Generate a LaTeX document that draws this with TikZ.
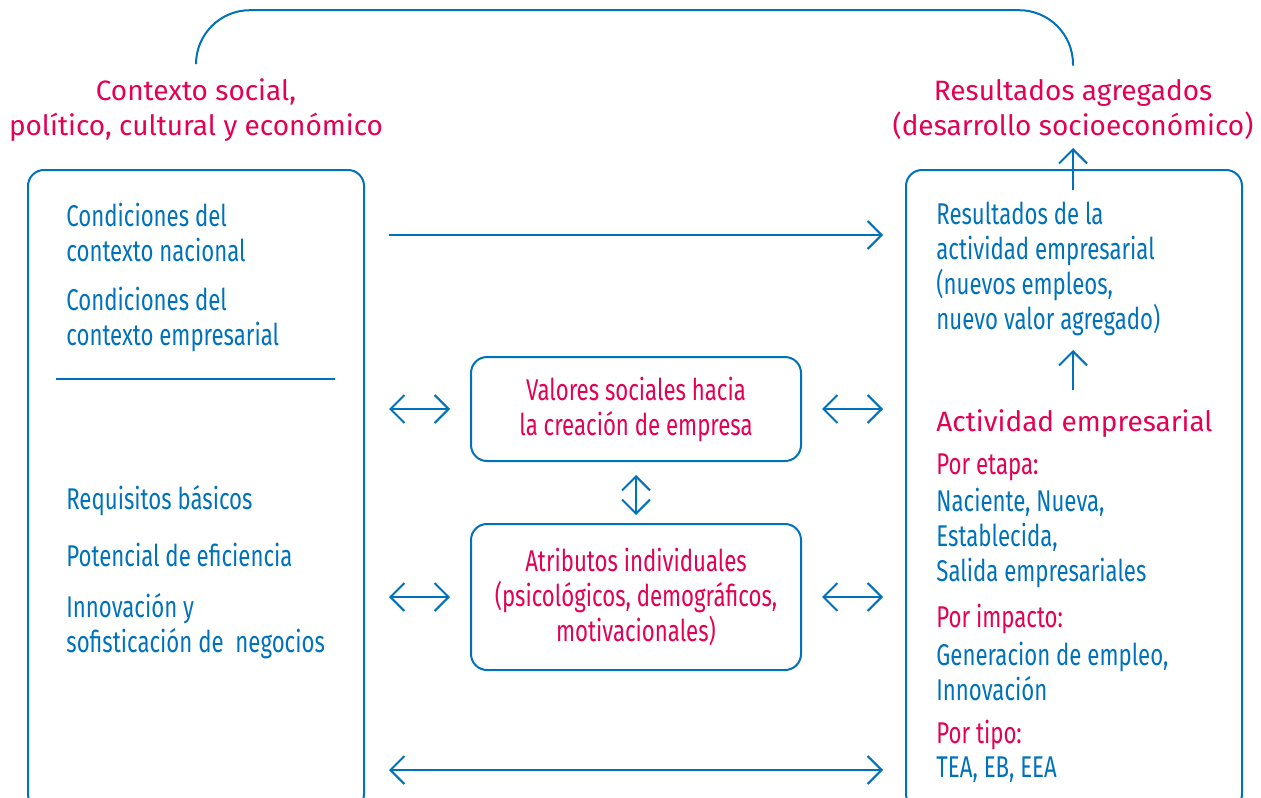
\documentclass[tikz,border=0pt]{standalone}
\usepackage{fontspec}
\setmainfont{Fira Sans}
\newfontfamily\narrowfont[FakeStretch=0.74]{Fira Sans}
\usetikzlibrary{arrows.meta, positioning}
\definecolor{gemblue}{RGB}{0,114,188}
\definecolor{gemred}{RGB}{228,0,84}

\tikzset{
  frame/.style={draw=gemblue, line width=1pt, rounded corners=8pt},
  body/.style={text=gemblue, font=\narrowfont\fontsize{15}{17.5}\selectfont,
    align=left, anchor=west, inner sep=0pt},
  redbody/.style={body, text=gemred},
  midtext/.style={body, text=gemred, align=center, anchor=center},
  headtext/.style={text=gemred, font=\fontsize{14}{17.5}\selectfont,
    align=center, inner sep=0pt},
  link/.style={draw=gemblue, line width=1pt,
    -{Straight Barb[length=7pt,width=14pt]}},
  twoway/.style={link,
    {Straight Barb[length=7pt,width=14pt]}-{Straight Barb[length=7pt,width=14pt]}},
}

\begin{document}
\begin{tikzpicture}[x=0.5pt, y=-0.5pt]
  \useasboundingbox (0,0) rectangle (1261,797);
  \clip (0,0) rectangle (1261,797);

  % headings above the two frames
  \node[headtext] (ctx) at (196,110) {Contexto social,\\político, cultural y económico};
  \node[headtext] (agr) at (1073,110) {Resultados agregados\\(desarrollo socioeconómico)};
  \draw[gemblue, line width=1pt, rounded corners=27pt]
    ([yshift=7pt]ctx.north) -- ++(0,-54) -| ([yshift=7pt]agr.north);

  % the two big frames (cut at the bottom)
  \node[frame, minimum width=168pt, minimum height=320pt] (lbox) at (196,490) {};
  \node[frame, minimum width=168pt, minimum height=320pt] (rbox) at (1074,490) {};

  % middle boxes
  \node[frame, minimum width=165pt, minimum height=52pt] (val) at (636,409) {};
  \node[midtext] at (val) {Valores sociales hacia\\la creación de empresa};
  \node[frame, minimum width=165pt, minimum height=73pt] (atr) at (636,597) {};
  \node[midtext] at (atr) {Atributos individuales\\(psicológicos, demográficos,\\motivacionales)};

  % left frame
  \node[body] (nac) at (66,232) {Condiciones del\\contexto nacional};
  \node[body] (emp) at (66,319) {Condiciones del\\contexto empresarial};
  \draw[gemblue, line width=1pt] (56,379) -- (335,379);
  \node[body] (req) at (66,501) {Requisitos básicos};
  \node[body] (efi) at (66,555) {Potencial de eficiencia};
  \node[body] (inn) at (66,626) {Innovación y\\sofisticación de~~negocios};

  % right frame
  \node[body] (res) at (936,269) {Resultados de la\\actividad empresarial\\(nuevos empleos,\\nuevo valor agregado)};
  \node[headtext, anchor=west] (act) at (936,424) {Actividad empresarial};
  \node[redbody] (eta) at (936,467) {Por etapa:};
  \node[body] (eta2) at (936,538) {Naciente, Nueva,\\Establecida,\\Salida empresariales};
  \node[redbody] (imp) at (936,619) {Por impacto:};
  \node[body] (imp2) at (936,671) {Generacion de empleo,\\Innovación};
  \node[redbody] (tip) at (936,735) {Por tipo:};
  \node[body] (tip2) at (936,770) {TEA, EB, EEA};

  % connectors
  \draw[link, shorten <=12pt, shorten >=11pt] (lbox.east |- 0,235) -- (rbox.west |- 0,235);
  \draw[twoway, shorten <=12pt, shorten >=10pt] (lbox.east |- val) -- (val.west);
  \draw[twoway, shorten <=10pt, shorten >=11pt] (val.east) -- (rbox.west |- val);
  \draw[twoway, shorten <=12pt, shorten >=10pt] (lbox.east |- atr) -- (atr.west);
  \draw[twoway, shorten <=10pt, shorten >=11pt] (atr.east) -- (rbox.west |- atr);
  \draw[twoway, shorten <=12pt, shorten >=11pt] (lbox.east |- tip2) -- (rbox.west |- tip2);
  \draw[twoway, shorten <=6.5pt, shorten >=4pt] (val.south) -- (atr.north);
  \draw[link] (agr.south |- 0,390) -- (agr.south |- 0,350);
  \draw[link] (agr.south |- 0,190) -- (agr.south |- 0,148);
\end{tikzpicture}
\end{document}
